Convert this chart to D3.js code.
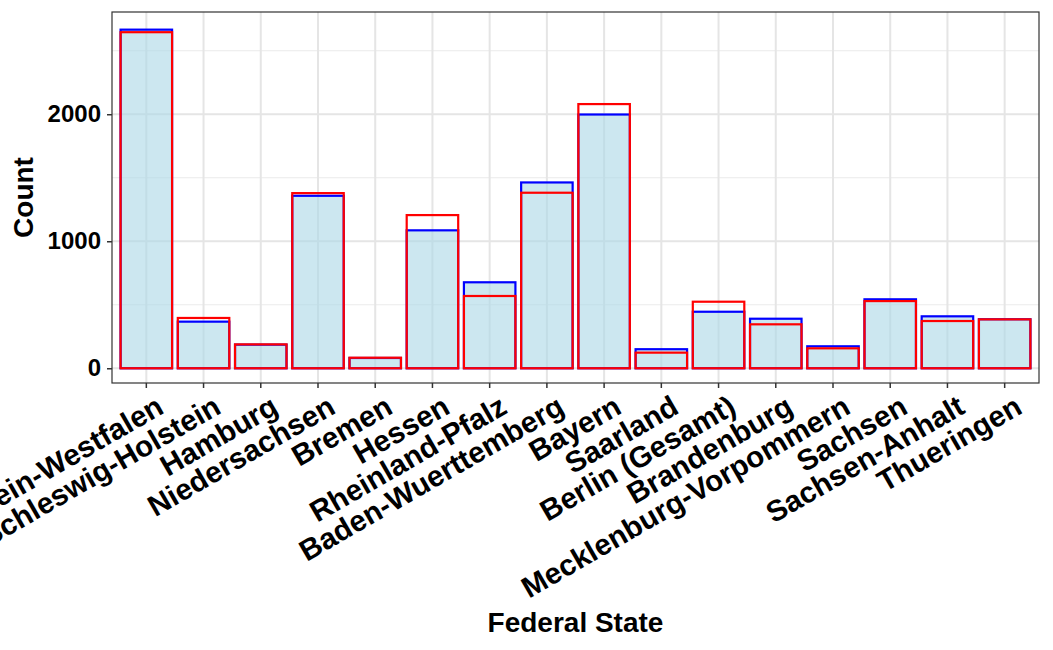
<!DOCTYPE html>
<html>
<head>
<meta charset="utf-8">
<script src="https://cdn.jsdelivr.net/npm/d3@7"></script>
<style>
  html, body { margin: 0; padding: 0; background: #fff; }
  svg { display: block; font-family: "Liberation Sans", Arial, Helvetica, sans-serif; }
</style>
</head>
<body>
<svg id="chart" width="1053" height="650"></svg>
<script>
const states = ["Nordrhein-Westfalen", "Schleswig-Holstein", "Hamburg", "Niedersachsen", "Bremen",
  "Hessen", "Rheinland-Pfalz", "Baden-Wuerttemberg", "Bayern", "Saarland", "Berlin (Gesamt)",
  "Brandenburg", "Mecklenburg-Vorpommern", "Sachsen", "Sachsen-Anhalt", "Thueringen"];
const blueCounts = [2666, 367, 186, 1358, 81, 1086, 677, 1463, 1998, 150, 445, 390, 173, 543, 409, 386];
const redCounts  = [2646, 396, 188, 1379, 83, 1206, 569, 1382, 2080, 123, 524, 346, 157, 529, 372, 385];
const yTicks = [0, 1000, 2000];
const yMinor = [500, 1500, 2500];
const xTitle = "Federal State";
const yTitle = "Count";

const svg = d3.select("#chart");
const pL = 112, pR = 1039, pT = 12, pB = 383;

const x = d3.scaleBand().domain(states).range([pL, pR]).paddingInner(0.1).paddingOuter(0.15);
const y = d3.scaleLinear().domain([-116, 2805]).range([pB, pT]);

svg.append("rect").attr("x", pL).attr("y", pT).attr("width", pR - pL).attr("height", pB - pT)
  .attr("fill", "#fff");

const grid = svg.append("g");
grid.selectAll(".ymin").data(yMinor).join("line")
  .attr("x1", pL).attr("x2", pR).attr("y1", d => y(d)).attr("y2", d => y(d))
  .attr("stroke", "#ebebeb").attr("stroke-width", 1);
grid.selectAll(".ymaj").data(yTicks).join("line")
  .attr("x1", pL).attr("x2", pR).attr("y1", d => y(d)).attr("y2", d => y(d))
  .attr("stroke", "#e5e5e5").attr("stroke-width", 2);
grid.selectAll(".xmaj").data(states).join("line")
  .attr("x1", d => x(d) + x.bandwidth() / 2).attr("x2", d => x(d) + x.bandwidth() / 2)
  .attr("y1", pT).attr("y2", pB)
  .attr("stroke", "#e5e5e5").attr("stroke-width", 2);

svg.append("g").selectAll("rect").data(states).join("rect")
  .attr("x", (d) => x(d)).attr("width", x.bandwidth())
  .attr("y", (d, i) => y(blueCounts[i])).attr("height", (d, i) => y(0) - y(blueCounts[i]))
  .attr("fill", "lightblue").attr("fill-opacity", 0.62)
  .attr("stroke", "blue").attr("stroke-width", 2.2);

svg.append("g").selectAll("rect").data(states).join("rect")
  .attr("x", (d) => x(d)).attr("width", x.bandwidth())
  .attr("y", (d, i) => y(redCounts[i])).attr("height", (d, i) => y(0) - y(redCounts[i]))
  .attr("fill", "none")
  .attr("stroke", "red").attr("stroke-width", 2.2);

svg.append("rect").attr("x", pL).attr("y", pT).attr("width", pR - pL).attr("height", pB - pT)
  .attr("fill", "none").attr("stroke", "#333333").attr("stroke-width", 1.2);

const yAxis = svg.append("g").attr("transform", `translate(${pL},0)`)
  .call(d3.axisLeft(y).tickValues(yTicks).tickSize(5).tickPadding(6).tickFormat(d3.format("d")));
yAxis.select(".domain").remove();
yAxis.selectAll("line").attr("stroke", "#333333").attr("stroke-width", 1.5);
yAxis.selectAll("text").attr("fill", "#000").style("font-size", "24px").style("font-weight", "bold");

const xAxis = svg.append("g").attr("transform", `translate(0,${pB})`)
  .call(d3.axisBottom(x).tickSize(5).tickPadding(4));
xAxis.select(".domain").remove();
xAxis.selectAll("line").attr("stroke", "#333333").attr("stroke-width", 1.5);
xAxis.selectAll("text")
  .attr("fill", "#000").style("font-size", "29.5px").style("font-weight", "bold")
  .attr("text-anchor", "end").attr("dy", "0.72em")
  .attr("transform", "translate(4,3) rotate(-30)");

svg.append("text").attr("x", (pL + pR) / 2).attr("y", 632).attr("text-anchor", "middle")
  .style("font-size", "28px").style("font-weight", "bold").attr("fill", "#000").text(xTitle);
svg.append("text").attr("transform", `translate(33,${(pT + pB) / 2}) rotate(-90)`)
  .attr("text-anchor", "middle")
  .style("font-size", "28px").style("font-weight", "bold").attr("fill", "#000").text(yTitle);
</script>
</body>
</html>
